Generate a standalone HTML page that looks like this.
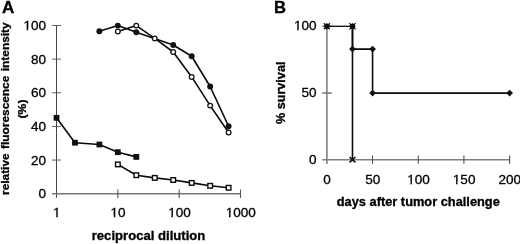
<!DOCTYPE html>
<html><head><meta charset="utf-8"><title>Figure</title>
<style>html,body{margin:0;padding:0;background:#fff}svg{display:block}</style>
</head><body>
<svg width="520" height="244" viewBox="0 0 520 244">
<rect width="520" height="244" fill="#fff"/>
<g font-family="'Liberation Sans', sans-serif" fill="#000">
<path d="M56.5 25.5 V197.7" stroke="#444" stroke-width="1" fill="none"/>
<path d="M52.0 193.75 H240.5" stroke="#777" stroke-width="1.5" fill="none"/>
<path d="M52.0 25.50 H61.0 M52.0 59.14 H61.0 M52.0 92.78 H61.0 M52.0 126.42 H61.0 M52.0 160.06 H61.0" stroke="#555" stroke-width="0.9" fill="none"/>
<path d="M117.83 189.39999999999998 V198.0 M179.17 189.39999999999998 V198.0 M240.50 189.39999999999998 V198.0" stroke="#555" stroke-width="1.1" fill="none"/>
<g font-size="12.9" stroke="#000" stroke-width="0.3">
<text transform="translate(46.00 30.10) scale(1.05 1)" text-anchor="end">100</text>
<text transform="translate(46.00 63.74) scale(1.05 1)" text-anchor="end">80</text>
<text transform="translate(46.00 97.38) scale(1.05 1)" text-anchor="end">60</text>
<text transform="translate(46.00 131.02) scale(1.05 1)" text-anchor="end">40</text>
<text transform="translate(46.00 164.66) scale(1.05 1)" text-anchor="end">20</text>
<text transform="translate(46.00 198.30) scale(1.05 1)" text-anchor="end">0</text>
<text transform="translate(56.80 217.40) scale(1.05 1)" text-anchor="middle">1</text>
<text transform="translate(118.13 217.40) scale(1.05 1)" text-anchor="middle">10</text>
<text transform="translate(179.47 217.40) scale(1.05 1)" text-anchor="middle">100</text>
<text transform="translate(240.80 217.40) scale(1.05 1)" text-anchor="middle">1000</text>
</g>
<text transform="translate(148.5 240) scale(1.08 1)" font-size="12.15" font-weight="bold" stroke="#000" stroke-width="0.3" text-anchor="middle">reciprocal dilution</text>
<text transform="translate(9.4 108.7) rotate(-90) scale(1.08 1)" font-size="11" word-spacing="1.1" font-weight="bold" stroke="#000" stroke-width="0.3" text-anchor="middle">relative fluorescence intensity</text>
<text transform="translate(25.5 109) rotate(-90) scale(1.08 1)" font-size="11.3" font-weight="bold" stroke="#000" stroke-width="0.3" text-anchor="middle">(%)</text>
<text transform="translate(1.9 12.5) scale(1.08 1)" font-size="15.8" font-weight="bold" stroke="#000" stroke-width="0.3">A</text>
<g stroke="#0a0a0a" stroke-width="1.6" fill="none" stroke-linejoin="round">
<polyline points="99.37,31.25 117.83,25.6 136.30,32.25 173.22,45 191.69,56.25 210.15,86.5 228.61,126.25"/>
<polyline points="117.83,31.5 136.30,25.6 154.76,38.4 173.22,52 191.69,76.9 210.15,105.6 228.61,132.5"/>
<polyline points="56.50,117.8 74.96,142.7 99.37,144.5 117.83,152.2 136.30,156.9"/>
<polyline points="117.83,164.4 136.30,175.2 154.76,177.9 173.22,180 191.69,182.9 210.15,185.8 228.61,187.75"/>
</g>
<circle cx="99.37" cy="31.25" r="2.95" fill="#111"/>
<circle cx="117.83" cy="25.6" r="2.95" fill="#111"/>
<circle cx="136.30" cy="32.25" r="2.95" fill="#111"/>
<circle cx="173.22" cy="45" r="2.95" fill="#111"/>
<circle cx="191.69" cy="56.25" r="2.95" fill="#111"/>
<circle cx="210.15" cy="86.5" r="2.95" fill="#111"/>
<circle cx="228.61" cy="126.25" r="2.95" fill="#111"/>
<circle cx="117.83" cy="31.5" r="2.35" fill="#fff" stroke="#111" stroke-width="1.25"/>
<circle cx="136.30" cy="25.6" r="2.35" fill="#fff" stroke="#111" stroke-width="1.25"/>
<circle cx="154.76" cy="38.4" r="2.35" fill="#fff" stroke="#111" stroke-width="1.25"/>
<circle cx="173.22" cy="52" r="2.35" fill="#fff" stroke="#111" stroke-width="1.25"/>
<circle cx="191.69" cy="76.9" r="2.35" fill="#fff" stroke="#111" stroke-width="1.25"/>
<circle cx="210.15" cy="105.6" r="2.35" fill="#fff" stroke="#111" stroke-width="1.25"/>
<circle cx="228.61" cy="132.5" r="2.35" fill="#fff" stroke="#111" stroke-width="1.25"/>
<rect x="53.60" y="114.90" width="5.8" height="5.8" fill="#111"/>
<rect x="72.06" y="139.80" width="5.8" height="5.8" fill="#111"/>
<rect x="96.47" y="141.60" width="5.8" height="5.8" fill="#111"/>
<rect x="114.93" y="149.30" width="5.8" height="5.8" fill="#111"/>
<rect x="133.40" y="154.00" width="5.8" height="5.8" fill="#111"/>
<rect x="115.53" y="162.10" width="4.6" height="4.6" fill="#fff" stroke="#0a0a0a" stroke-width="1.4"/>
<rect x="134.00" y="172.90" width="4.6" height="4.6" fill="#fff" stroke="#0a0a0a" stroke-width="1.4"/>
<rect x="152.46" y="175.60" width="4.6" height="4.6" fill="#fff" stroke="#0a0a0a" stroke-width="1.4"/>
<rect x="170.92" y="177.70" width="4.6" height="4.6" fill="#fff" stroke="#0a0a0a" stroke-width="1.4"/>
<rect x="189.39" y="180.60" width="4.6" height="4.6" fill="#fff" stroke="#0a0a0a" stroke-width="1.4"/>
<rect x="207.85" y="183.50" width="4.6" height="4.6" fill="#fff" stroke="#0a0a0a" stroke-width="1.4"/>
<rect x="226.31" y="185.45" width="4.6" height="4.6" fill="#fff" stroke="#0a0a0a" stroke-width="1.4"/>
<path d="M326.9 26.3 V163.89999999999998" stroke="#808080" stroke-width="1.6" fill="none"/>
<path d="M322.29999999999995 159.7 H509.6" stroke="#808080" stroke-width="1.6" fill="none"/>
<path d="M322.29999999999995 93.00 H331.7 M322.29999999999995 26.30 H331.7" stroke="#777" stroke-width="1.4" fill="none"/>
<path d="M372.57 155.5 V163.89999999999998 M418.25 155.5 V163.89999999999998 M463.93 155.5 V163.89999999999998 M509.60 155.5 V163.89999999999998" stroke="#444" stroke-width="1" fill="none"/>
<g font-size="12.9" stroke="#000" stroke-width="0.3">
<text transform="translate(316.50 163.90) scale(1.05 1)" text-anchor="end">0</text>
<text transform="translate(316.50 97.00) scale(1.05 1)" text-anchor="end">50</text>
<text transform="translate(316.50 30.30) scale(1.05 1)" text-anchor="end">100</text>
<text transform="translate(327.10 183.70) scale(1.05 1)" text-anchor="middle">0</text>
<text transform="translate(372.77 183.70) scale(1.05 1)" text-anchor="middle">50</text>
<text transform="translate(418.45 183.70) scale(1.05 1)" text-anchor="middle">100</text>
<text transform="translate(464.12 183.70) scale(1.05 1)" text-anchor="middle">150</text>
<text transform="translate(509.80 183.70) scale(1.05 1)" text-anchor="middle">200</text>
</g>
<text transform="translate(418.3 206.1) scale(1.08 1)" font-size="11.87" font-weight="bold" stroke="#000" stroke-width="0.3" text-anchor="middle">days after tumor challenge</text>
<text transform="translate(284.8 92.8) rotate(-90) scale(1.035 1)" font-size="12.2" font-weight="bold" stroke="#000" stroke-width="0.3" text-anchor="middle">% survival</text>
<text transform="translate(273.9 12.6) scale(1.05 1)" font-size="15.8" font-weight="bold" stroke="#000" stroke-width="0.3">B</text>
<g stroke="#0a0a0a" stroke-width="1.6" fill="none">
<path d="M326.9 26.3 H352.48" stroke-width="1.3"/>
<path d="M352.48 26.3 V159.7"/>
<path d="M352.48 26.3 V49.1 H372.57 V93.1 H509.6"/>
</g>
<path d="M323.80 23.20 L330.00 29.40 M323.80 29.40 L330.00 23.20 M326.90 23.20 V29.40 M323.80 26.30 H330.00" stroke="#0a0a0a" stroke-width="1.1" fill="none"/><rect x="324.45" y="23.85" width="4.9" height="4.9" fill="#0a0a0a"/>
<path d="M349.38 23.20 L355.58 29.40 M349.38 29.40 L355.58 23.20 M352.48 23.20 V29.40 M349.38 26.30 H355.58" stroke="#0a0a0a" stroke-width="1.1" fill="none"/><rect x="350.03" y="23.85" width="4.9" height="4.9" fill="#0a0a0a"/>
<path d="M349.58 157.00 L355.38 162.40 M349.58 162.40 L355.38 157.00" stroke="#0a0a0a" stroke-width="1.6" fill="none"/>
<path d="M349.08 49.1 L352.48 45.70 L355.88 49.1 L352.48 52.50Z" fill="#111"/>
<path d="M369.18 49.1 L372.57 45.70 L375.97 49.1 L372.57 52.50Z" fill="#111"/>
<path d="M369.18 93.1 L372.57 89.70 L375.97 93.1 L372.57 96.50Z" fill="#111"/>
<path d="M506.20 93.1 L509.60 89.70 L513.00 93.1 L509.60 96.50Z" fill="#111"/>
<g fill="#fff"><rect x="23.60" y="28.60" width="3.06" height="2.60"/><rect x="28.15" y="28.60" width="2.93" height="2.60"/><rect x="53.23" y="215.90" width="3.06" height="2.60"/><rect x="57.79" y="215.90" width="2.93" height="2.60"/><rect x="110.80" y="215.90" width="3.06" height="2.60"/><rect x="115.35" y="215.90" width="2.93" height="2.60"/><rect x="168.37" y="215.90" width="3.06" height="2.60"/><rect x="172.92" y="215.90" width="2.93" height="2.60"/><rect x="225.93" y="215.90" width="3.06" height="2.60"/><rect x="230.49" y="215.90" width="2.93" height="2.60"/><rect x="294.10" y="28.80" width="3.06" height="2.60"/><rect x="298.65" y="28.80" width="2.93" height="2.60"/><rect x="407.35" y="182.20" width="3.06" height="2.60"/><rect x="411.90" y="182.20" width="2.93" height="2.60"/><rect x="453.03" y="182.20" width="3.06" height="2.60"/><rect x="457.58" y="182.20" width="2.93" height="2.60"/></g>
</g></svg>
</body></html>
